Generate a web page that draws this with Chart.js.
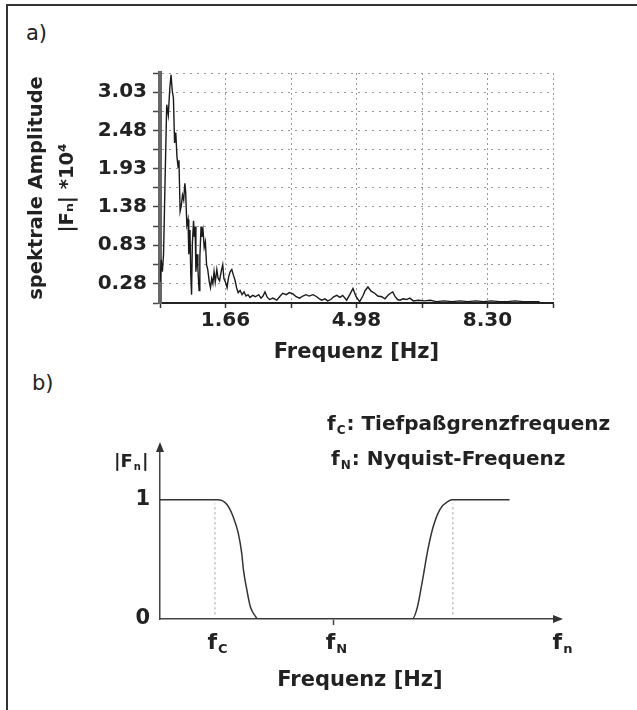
<!DOCTYPE html>
<html>
<head>
<meta charset="utf-8">
<script src="https://cdn.jsdelivr.net/npm/chart.js@4.4.0/dist/chart.umd.min.js"></script>
<style>
  body { margin: 0; background: #fff; }
  #page { position: relative; width: 637px; height: 710px; overflow: hidden; font-family: "DejaVu Sans", sans-serif; color: #222; }
  #frame { position: absolute; left: 6px; top: 4px; right: -10px; bottom: -10px; border-top: 2px solid #333; border-left: 2px solid #333; }
  .lbl { position: absolute; font-size: 21px; line-height: 26px; }
  #chartA { position: absolute; left: 0; top: 0; }
  #chartB { position: absolute; left: 0; top: 370px; }
</style>
</head>
<body>
<div id="page">
  <div id="frame"></div>
  <div class="lbl" style="left:26px;top:20px">a)</div>
  <div class="lbl" style="left:32px;top:370px">b)</div>
  <canvas id="chartA" width="637" height="370"></canvas>
  <canvas id="chartB" width="637" height="340"></canvas>
</div>
<script>
// a) Spektrum (abgelesen)
const spektrumFreq = [0.00, 0.03, 0.06, 0.09, 0.13, 0.17, 0.21, 0.25, 0.28, 0.31, 0.34, 0.37, 0.40, 0.43, 0.46, 0.48,
  0.51, 0.54, 0.57, 0.60, 0.63, 0.65, 0.68, 0.71, 0.73, 0.76, 0.78, 0.80, 0.82, 0.85, 0.87, 0.89, 0.91, 0.94, 0.96,
  0.99, 1.01, 1.04, 1.06, 1.09, 1.12, 1.15, 1.18, 1.21, 1.25, 1.28, 1.31, 1.34, 1.37, 1.40, 1.44, 1.47, 1.51, 1.55,
  1.59, 1.62, 1.66, 1.70, 1.74, 1.78, 1.82, 1.86, 1.90, 1.94, 1.98, 2.03, 2.08, 2.13, 2.18, 2.23, 2.28, 2.35, 2.42,
  2.50, 2.56, 2.61, 2.66, 2.72, 2.78, 2.86, 2.96, 3.03, 3.11, 3.20, 3.28, 3.37, 3.45, 3.54, 3.62, 3.70, 3.78, 3.88,
  3.97, 4.04, 4.10, 4.18, 4.25, 4.33, 4.40, 4.48, 4.56, 4.63, 4.73, 4.81, 4.89, 4.97, 5.06, 5.14, 5.20, 5.27, 5.35,
  5.44, 5.52, 5.62, 5.70, 5.78, 5.84, 5.90, 5.96, 6.02, 6.08, 6.16, 6.25, 6.33, 6.42, 6.55, 6.70, 6.85, 7.00, 7.20,
  7.40, 7.60, 7.80, 8.00, 8.20, 8.40, 8.60, 8.80, 9.00, 9.20, 9.40, 9.62];
const spektrumAmp = [0.30, 0.62, 0.45, 0.70, 1.80, 2.85, 2.70, 3.10, 3.28, 3.05, 2.95, 2.30, 2.45, 2.10, 1.95, 2.05,
  1.32, 1.40, 1.55, 1.48, 1.72, 1.60, 1.12, 1.20, 0.70, 1.05, 0.40, 0.12, 0.85, 1.18, 0.95, 1.10, 0.45, 0.70, 0.50,
  0.18, 0.65, 1.10, 0.95, 1.05, 0.80, 0.88, 0.55, 0.48, 0.30, 0.22, 0.35, 0.28, 0.45, 0.30, 0.48, 0.36, 0.32, 0.45,
  0.55, 0.35, 0.30, 0.22, 0.38, 0.45, 0.48, 0.40, 0.33, 0.22, 0.15, 0.18, 0.12, 0.16, 0.10, 0.12, 0.08, 0.11, 0.09,
  0.12, 0.07, 0.10, 0.16, 0.08, 0.05, 0.07, 0.04, 0.09, 0.14, 0.12, 0.15, 0.13, 0.09, 0.07, 0.10, 0.12, 0.10, 0.12,
  0.09, 0.06, 0.04, 0.06, 0.03, 0.05, 0.09, 0.11, 0.08, 0.11, 0.04, 0.12, 0.21, 0.09, 0.02, 0.10, 0.18, 0.23, 0.17,
  0.14, 0.10, 0.09, 0.06, 0.11, 0.14, 0.16, 0.09, 0.05, 0.04, 0.06, 0.05, 0.07, 0.03, 0.04, 0.03, 0.04, 0.02, 0.03,
  0.02, 0.03, 0.02, 0.03, 0.02, 0.03, 0.02, 0.02, 0.03, 0.02, 0.02, 0.02];
const xGrid = [0, 1.66, 3.32, 4.98, 6.64, 8.30, 9.96];
const xLabeled = ['1.66', '4.98', '8.30'];
const yGrid = [0, 0.28, 0.555, 0.83, 1.105, 1.38, 1.655, 1.93, 2.205, 2.48, 2.755, 3.03, 3.305];
const yLabeled = ['0.28', '0.83', '1.38', '1.93', '2.48', '3.03'];

// b) Filterkurve (schematisch)
const filterF = [0, 0.33, 0.385, 0.42, 0.45, 0.47, 0.48, 0.50, 0.52, 0.55, 0.56, 1.00, 1.45, 1.48, 1.51, 1.54, 1.57, 1.61, 1.66, 1.68, 2.01];
const filterA = [1, 1, 0.96, 0.86, 0.72, 0.55, 0.41, 0.24, 0.10, 0.02, 0, 0, 0, 0.10, 0.33, 0.58, 0.77, 0.92, 0.99, 1, 1];
const cutoffF = [0.316, 1.684];
const fMarks = [0.316, 1, 2.3];
const fMarkSub = ['C', 'N', 'n'];
const ampTicks = [0, 1];

const FONT = 'DejaVu Sans';
const INK = '#222';

new Chart(document.getElementById('chartA'), {
    type: 'line',
    data: {
        datasets: [{
            data: spektrumFreq.map((f, i) => ({ x: f, y: spektrumAmp[i] })),
            borderColor: '#1a1a1a',
            borderWidth: 1.4,
            pointRadius: 0,
            tension: 0
        }]
    },
    options: {
        responsive: false,
        animation: false,
        layout: { padding: { top: 73, right: 84, left: 0, bottom: 0 } },
        plugins: { legend: { display: false }, tooltip: { enabled: false } },
        scales: {
            x: {
                type: 'linear', min: 0, max: 9.96,
                afterBuildTicks: s => { s.ticks = xGrid.map(v => ({ value: v })); },
                afterFit: s => { s.height = 67; },
                ticks: {
                    autoSkip: false, maxRotation: 0, padding: 1, color: INK,
                    font: { family: FONT, size: 20, weight: 'bold' },
                    callback: v => { const t = v.toFixed(2); return xLabeled.includes(t) ? t : ''; }
                },
                grid: { color: '#999', lineWidth: 1, tickLength: 5, tickColor: '#333', tickWidth: 1.5 },
                border: { color: '#222', width: 2, dash: [2, 3] },
                title: { display: true, text: 'Frequenz [Hz]', color: INK, font: { family: FONT, size: 21, weight: 'bold' }, padding: { top: 0, bottom: 5 } }
            },
            y: {
                type: 'linear', min: 0, max: 3.305,
                afterBuildTicks: s => { s.ticks = yGrid.map(v => ({ value: v })); },
                afterFit: s => { s.width = 160; },
                ticks: {
                    autoSkip: false, padding: 6, color: INK,
                    font: { family: FONT, size: 20, weight: 'bold' },
                    callback: v => { const t = v.toFixed(2); return yLabeled.includes(t) ? t : ''; }
                },
                grid: { color: '#999', lineWidth: 1, tickLength: 7, tickColor: '#444', tickWidth: 1.5 },
                border: { color: '#666', width: 4, dash: [2, 5] },
                title: {
                    display: true, text: ['spektrale Amplitude', '|Fₙ| *10⁴'], color: INK,
                    font: { family: FONT, size: 19.5, weight: 'bold', lineHeight: 1.59 }, padding: { top: 21, bottom: 0 }
                }
            }
        }
    }
});

function drawSub(ctx, x, y, main, sub, rest, size, subSize, align) {
    const f = s => 'bold ' + s + 'px "' + FONT + '"';
    ctx.font = f(size);
    const wMain = ctx.measureText(main).width;
    const wRest = ctx.measureText(rest).width;
    ctx.font = f(subSize);
    const wSub = ctx.measureText(sub).width;
    let x0 = align === 'center' ? x - (wMain + wSub + wRest) / 2 : x;
    ctx.textBaseline = 'middle';
    ctx.textAlign = 'left';
    ctx.fillStyle = INK;
    ctx.font = f(size);
    ctx.fillText(main, x0, y);
    ctx.font = f(subSize);
    ctx.fillText(sub, x0 + wMain + 1, y + size * 0.28);
    ctx.font = f(size);
    ctx.fillText(rest, x0 + wMain + wSub + 2, y);
}

const filterDeko = {
    id: 'filterDeko',
    afterDraw(chart) {
        const ctx = chart.ctx;
        const a = chart.chartArea;
        const xs = chart.scales.x;
        ctx.save();
        // Pfeilspitzen
        ctx.fillStyle = '#333';
        ctx.beginPath();
        ctx.moveTo(a.left, a.top - 3);
        ctx.lineTo(a.left - 4, a.top + 7);
        ctx.lineTo(a.left + 4, a.top + 7);
        ctx.fill();
        ctx.beginPath();
        ctx.moveTo(a.right + 3, a.bottom);
        ctx.lineTo(a.right - 7, a.bottom - 4);
        ctx.lineTo(a.right - 7, a.bottom + 4);
        ctx.fill();
        // Achsbeschriftung f_C, f_N, f_n
        fMarks.forEach((v, i) => {
            drawSub(ctx, xs.getPixelForValue(v) + 2, a.bottom + 24, 'f', fMarkSub[i], '', 22, 13, 'center');
        });
        drawSub(ctx, 114, 92, '|F', 'n', '|', 18, 10, 'left');
        drawSub(ctx, 327, 55, 'f', 'C', ': Tiefpaßgrenzfrequenz', 20, 12, 'left');
        drawSub(ctx, 331, 90, 'f', 'N', ': Nyquist-Frequenz', 20, 12, 'left');
        ctx.restore();
    }
};

new Chart(document.getElementById('chartB'), {
    type: 'line',
    data: {
        datasets: [{
            data: filterF.map((f, i) => ({ x: f, y: filterA[i] })),
            borderColor: '#333',
            borderWidth: 1.5,
            pointRadius: 0,
            cubicInterpolationMode: 'monotone'
        }].concat(cutoffF.map(f => ({
            data: [{ x: f, y: 0.04 }, { x: f, y: 0.97 }],
            borderColor: '#aaa',
            borderWidth: 1.2,
            borderDash: [2, 3],
            pointRadius: 0
        })))
    },
    options: {
        responsive: false,
        animation: false,
        layout: { padding: { top: 75, right: 77, left: 0, bottom: 0 } },
        plugins: { legend: { display: false }, tooltip: { enabled: false } },
        scales: {
            x: {
                type: 'linear', min: 0, max: 2.3,
                afterBuildTicks: s => { s.ticks = fMarks.map(v => ({ value: v })); },
                afterFit: s => { s.height = 91; },
                ticks: { display: false },
                grid: {
                    drawOnChartArea: false, drawTicks: true, tickLength: 6, tickWidth: 1.5,
                    tickColor: c => (c.tick && c.tick.value === 1 ? '#444' : 'rgba(0,0,0,0)')
                },
                border: { color: '#444', width: 1.5 },
                title: { display: true, text: 'Frequenz [Hz]', color: INK, font: { family: FONT, size: 21, weight: 'bold' }, padding: { top: 0, bottom: 17 } }
            },
            y: {
                type: 'linear', min: 0, max: 1.46,
                afterBuildTicks: s => { s.ticks = ampTicks.map(v => ({ value: v })); },
                afterFit: s => { s.width = 160; },
                ticks: { padding: 10, color: INK, font: { family: FONT, size: 21, weight: 'bold' } },
                grid: { display: false, drawTicks: false },
                border: { color: '#444', width: 1.5 }
            }
        }
    },
    plugins: [filterDeko]
});
</script>
</body>
</html>
